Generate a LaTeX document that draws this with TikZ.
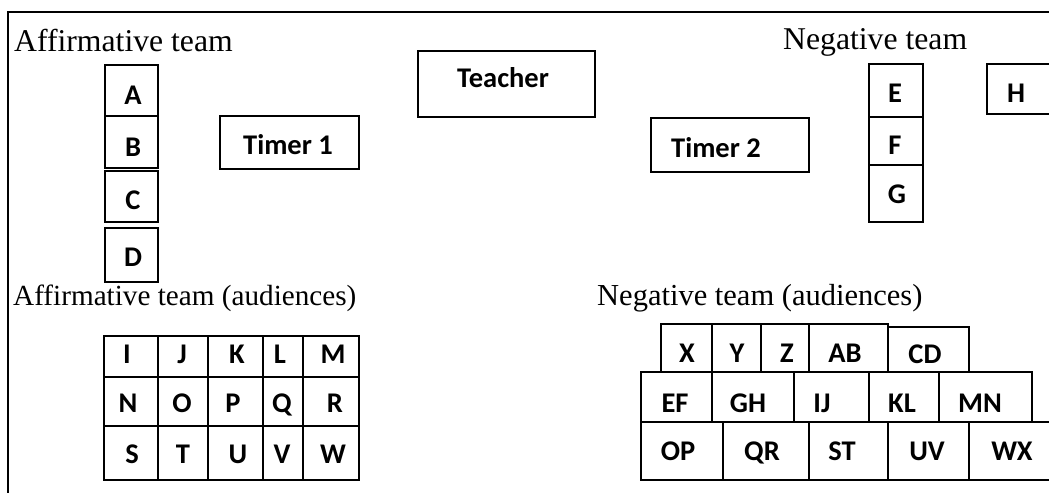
\documentclass[tikz,border=0pt]{standalone}
\usepackage{fontspec}
\setmainfont{Liberation Serif}
\newfontfamily\calib{Carlito}
\tikzset{
  cellbox/.style={draw, line width=1.6pt, inner sep=0pt, anchor=north west},
  lbl/.style={font=\calib\bfseries\fontsize{28.5}{28.5}\selectfont, inner sep=0pt, anchor=base},
  lblw/.style={lbl, anchor=base west},
  head/.style={font=\fontsize{31.7}{31.7}\selectfont, inner sep=0pt, anchor=base west},
  frame/.style={line width=2.4pt}
}
% box: name, x1, y1, x2, y2
\newcommand\cellrect[5]{\node[cellbox, minimum width={#4pt-#2pt}, minimum height={#5pt-#3pt}] (#1) at (#2,#3) {};}
\begin{document}
\begin{tikzpicture}[x=1pt,y=-1pt]
\useasboundingbox (0,0) rectangle (1049,495);
\clip (0,0) rectangle (1049,495);
% frame
\coordinate (f1) at (1052,12);
\coordinate (f2) at (8,12);
\coordinate (f3) at (8,493);
\draw[frame] (f1) -- (f2) -- (f3);

% headings
\node[head] (haff) at (14,52) {Affirmative team};
\node[head] (hneg) at (783,50) {Negative team};
\node[head, font=\fontsize{29.2}{29.2}\selectfont] (haffa) at (13,305) {Affirmative team (audiences)};
\node[head, font=\fontsize{30.5}{30.5}\selectfont] (hnega) at (597,305) {Negative team (audiences)};

% affirmative speakers
\cellrect{bA}{104}{64}{157}{115}
\cellrect{bB}{104}{115}{157}{167}
\cellrect{bC}{104}{170}{157}{221}
\cellrect{bD}{104}{227}{157}{281}
\node[lbl] (tA) at (133,104) {A};
\node[lbl] (tB) at (133,156) {B};
\node[lbl] (tC) at (133,209) {C};
\node[lbl] (tD) at (133,266) {D};

% timers and teacher
\cellrect{bT1}{219}{115}{358}{168}
\node[lblw] (tT1) at (243,154) {Timer 1};
\cellrect{bTe}{417}{50}{594}{116}
\node[lblw] (tTe) at (457,88) {Teacher};
\cellrect{bT2}{650}{117}{808}{171}
\node[lblw] (tT2) at (671,157) {Timer 2};

% negative speakers
\cellrect{bE}{868}{63}{922}{116}
\cellrect{bF}{868}{116}{922}{164}
\cellrect{bG}{868}{164}{922}{221}
\cellrect{bH}{986}{63}{1060}{113}
\node[lbl] (tE) at (895,102) {E};
\node[lbl] (tF) at (895,154) {F};
\node[lbl] (tG) at (897,203) {G};
\node[lbl] (tH) at (1016,102) {H};

% affirmative audience grid
\cellrect{g11}{103}{335}{157}{376}
\cellrect{g12}{157}{335}{207}{376}
\cellrect{g13}{207}{335}{262}{376}
\cellrect{g14}{262}{335}{302}{376}
\cellrect{g15}{302}{335}{358}{376}
\cellrect{g21}{103}{376}{157}{425}
\cellrect{g22}{157}{376}{207}{425}
\cellrect{g23}{207}{376}{262}{425}
\cellrect{g24}{262}{376}{302}{425}
\cellrect{g25}{302}{376}{358}{425}
\cellrect{g31}{103}{425}{157}{479}
\cellrect{g32}{157}{425}{207}{479}
\cellrect{g33}{207}{425}{262}{479}
\cellrect{g34}{262}{425}{302}{479}
\cellrect{g35}{302}{425}{358}{479}
\node[lbl] (tI) at (127,363) {I};
\node[lbl] (tJ) at (182,363) {J};
\node[lbl] (tK) at (237,363) {K};
\node[lbl] (tL) at (280,363) {L};
\node[lbl] (tM) at (333,363) {M};
\node[lbl] (tN) at (128,412) {N};
\node[lbl] (tO) at (182,412) {O};
\node[lbl] (tP) at (233,412) {P};
\node[lbl] (tQ) at (282,412) {Q};
\node[lbl] (tR) at (335,412) {R};
\node[lbl] (tS) at (132,463) {S};
\node[lbl] (tT) at (183,463) {T};
\node[lbl] (tU) at (238,463) {U};
\node[lbl] (tV) at (282,463) {V};
\node[lbl] (tW) at (333,463) {W};

% negative audience
\cellrect{n11}{660}{323}{711}{371}
\cellrect{n12}{711}{323}{760}{371}
\cellrect{n13}{760}{323}{808}{371}
\cellrect{n14}{808}{323}{887}{371}
\cellrect{n15}{887}{326}{968}{371}
\cellrect{n21}{640}{371}{711}{421}
\cellrect{n22}{711}{371}{793}{421}
\cellrect{n23}{793}{371}{868}{421}
\cellrect{n24}{868}{371}{938}{421}
\cellrect{n25}{938}{371}{1031}{421}
\cellrect{n31}{640}{421}{722}{479}
\cellrect{n32}{722}{421}{808}{479}
\cellrect{n33}{808}{421}{887}{479}
\cellrect{n34}{887}{421}{968}{479}
\cellrect{n35}{968}{421}{1060}{479}
\node[lbl] (tX) at (687,362) {X};
\node[lbl] (tY) at (737,362) {Y};
\node[lbl] (tZ) at (787,362) {Z};
\node[lbl] (tAB) at (845,362) {AB};
\node[lbl] (tCD) at (925,363) {CD};
\node[lbl] (tEF) at (675,412) {EF};
\node[lbl] (tGH) at (748,412) {GH};
\node[lbl] (tIJ) at (822,412) {IJ};
\node[lbl] (tKL) at (902,412) {KL};
\node[lbl] (tMN) at (980,412) {MN};
\node[lbl] (tOP) at (678,460) {OP};
\node[lbl] (tQR) at (762,460) {QR};
\node[lbl] (tST) at (842,460) {ST};
\node[lbl] (tUV) at (927,460) {UV};
\node[lbl] (tWX) at (1012,460) {WX};
\end{tikzpicture}
\end{document}
